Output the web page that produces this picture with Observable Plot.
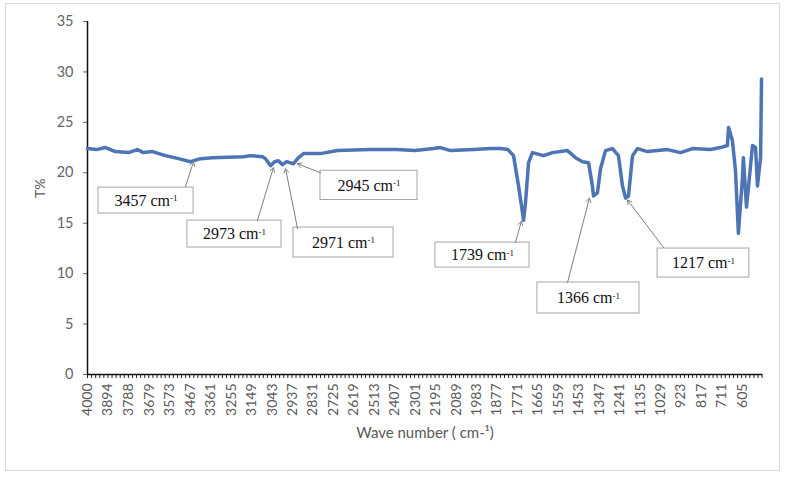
<!DOCTYPE html>
<html>
<head>
<meta charset="utf-8">
<script src="https://cdn.jsdelivr.net/npm/d3@7"></script>
<script src="https://cdn.jsdelivr.net/npm/@observablehq/plot@0.6"></script>
<style>
  body { margin: 0; background: white; }
  #wrap { position: relative; width: 787px; height: 479px; }
  #frame { position: absolute; left: 5px; top: 3px; width: 773px; height: 466px; border: 1px solid #d9d9d9; pointer-events: none; }
</style>
</head>
<body>
<div id="wrap"><div id="frame"></div></div>
<script>
// Spectrum: wave number (cm-1) and transmittance (T%)
const wavenumber = [4000, 3953, 3907, 3855, 3787, 3741, 3710, 3663, 3596, 3528,
  3466, 3414, 3352, 3191, 3155, 3093, 3077, 3051, 3030, 3010,
  2989, 2968, 2932, 2906, 2880, 2792, 2704, 2533, 2400, 2300,
  2206, 2170, 2118, 2000, 1910, 1859, 1820, 1791, 1765, 1745,
  1739, 1729, 1713, 1693, 1636, 1589, 1511, 1470, 1433, 1402,
  1382, 1376, 1356, 1340, 1314, 1278, 1247, 1226, 1210, 1195,
  1174, 1148, 1096, 993, 925, 863, 770, 718, 682, 676,
  656, 640, 625, 604, 599, 583, 573, 552, 536, 526,
  510, 505];
const transmittance = [22.4, 22.3, 22.5, 22.1, 22.0, 22.3, 22.0, 22.1, 21.7, 21.4,
  21.1, 21.4, 21.5, 21.6, 21.7, 21.6, 21.4, 20.7, 21.1, 21.2,
  20.8, 21.1, 20.9, 21.5, 21.9, 21.9, 22.2, 22.3, 22.3, 22.2,
  22.4, 22.5, 22.2, 22.3, 22.4, 22.4, 22.3, 21.7, 18.7, 16.1,
  15.3, 17.0, 21.0, 22.0, 21.7, 22.0, 22.2, 21.5, 21.1, 21.0,
  18.7, 17.7, 18.0, 20.4, 22.2, 22.4, 21.7, 18.7, 17.5, 17.7,
  21.7, 22.4, 22.1, 22.3, 22.0, 22.4, 22.3, 22.5, 22.7, 24.5,
  23.2, 20.2, 14.0, 19.5, 21.5, 16.6, 18.5, 22.7, 22.5, 18.7,
  21.5, 29.3];

// Axis tick labels
const xTickLabels = [4000, 3894, 3788, 3679, 3573, 3467, 3361, 3255, 3149, 3043, 2937, 2831,
  2725, 2619, 2513, 2407, 2301, 2195, 2089, 1983, 1877, 1771, 1665, 1559, 1453, 1347,
  1241, 1135, 1029, 923, 817, 711, 605];
const yTicks = [0, 5, 10, 15, 20, 25, 30, 35];

// Peak annotations (label text, box corners and arrow ends in data units)
const annText = ["3457 cm⁻¹", "2973 cm⁻¹", "2971 cm⁻¹", "2945 cm⁻¹", "1739 cm⁻¹", "1366 cm⁻¹", "1217 cm⁻¹"];
const annBoxX1 = [3943, 3482, 2932, 2792, 2196, 1667, 1044];
const annBoxX2 = [3450, 2994, 2413, 2289, 1708, 1138, 568];
const annBoxY1 = [18.53, 15.26, 14.57, 20.2, 13.08, 9.12, 12.49];
const annBoxY2 = [15.96, 12.59, 11.6, 17.3, 10.6, 6.05, 9.61];
const annFromX = [3492, 3119, 2911, 2792, 1781, 1511, 1013];
const annFromY = [18.63, 15.26, 14.47, 20.0, 13.08, 9.12, 12.59];
const annToX = [3450, 3036, 2973, 2911, 1750, 1397, 1200];
const annToY = [21.1, 20.5, 20.4, 20.9, 15.2, 17.5, 17.3];

const spectrum = wavenumber.map((w, i) => ({w, t: transmittance[i]}));
const ann = annText.map((s, i) => ({
  s, x1: annBoxX1[i], x2: annBoxX2[i], y1: annBoxY1[i], y2: annBoxY2[i],
  fx: annFromX[i], fy: annFromY[i], tx: annToX[i], ty: annToY[i]
}));
const minorTicks = d3.range(0, 166).map(i => 4000 - i * 21.2);

const chart = Plot.plot({
  width: 787,
  height: 479,
  marginLeft: 87,
  marginRight: 25,
  marginTop: 21,
  marginBottom: 105,
  x: {domain: [4000, 500]},
  y: {domain: [0, 35]},
  style: {fontFamily: "Lato, 'Open Sans', sans-serif", background: "white", overflow: "visible"},
  marks: [
    Plot.axisX({ticks: minorTicks, tickSize: 4, tickFormat: () => "", stroke: "#222", label: null}),
    Plot.axisX({ticks: xTickLabels, tickSize: 0, tickPadding: 9, tickRotate: -90, fontSize: 14, fill: "#595959", tickFormat: d => String(d), label: null}),
    Plot.axisY({ticks: yTicks, tickSize: 4, tickPadding: 10, fontSize: 14.5, color: "#666666", label: null}),
    Plot.ruleY([0], {stroke: "#111", strokeWidth: 1.5}),
    Plot.ruleX([4000], {stroke: "#111", strokeWidth: 1.5}),
    Plot.line(spectrum, {x: "w", y: "t", stroke: "#4d74b5", strokeWidth: 3.5, strokeLinejoin: "round", curve: "linear"}),
    Plot.rect(ann, {x1: "x1", x2: "x2", y1: "y1", y2: "y2", fill: "white", stroke: "#a6a6a6", strokeWidth: 1}),
    Plot.text(ann, {x: d => (d.x1 + d.x2) / 2, y: d => (d.y1 + d.y2) / 2, text: "s", fontFamily: "'Liberation Serif', 'Times New Roman', serif", fontSize: 16, fill: "#111"}),
    Plot.arrow(ann, {x1: "fx", y1: "fy", x2: "tx", y2: "ty", stroke: "#7f7f7f", strokeWidth: 1, headLength: 7}),
    Plot.text(["T%"], {frameAnchor: "left", dx: -47, rotate: -90, fontSize: 14, fill: "#595959"}),
    Plot.text(["Wave number ( cm-¹)"], {frameAnchor: "bottom", dy: 63, fontSize: 15, fill: "#595959"})
  ]
});

// render the "-1" of cm⁻¹ as a small superscript
d3.select(chart).selectAll("text").each(function() {
  const el = d3.select(this);
  const s = el.text();
  if (s.endsWith("cm⁻¹")) {
    el.text(s.replace("⁻¹", ""));
    el.append("tspan").attr("dy", "-0.5em").attr("font-size", 9).text("-1");
  }
});

document.getElementById("wrap").prepend(chart);
</script>
</body>
</html>
